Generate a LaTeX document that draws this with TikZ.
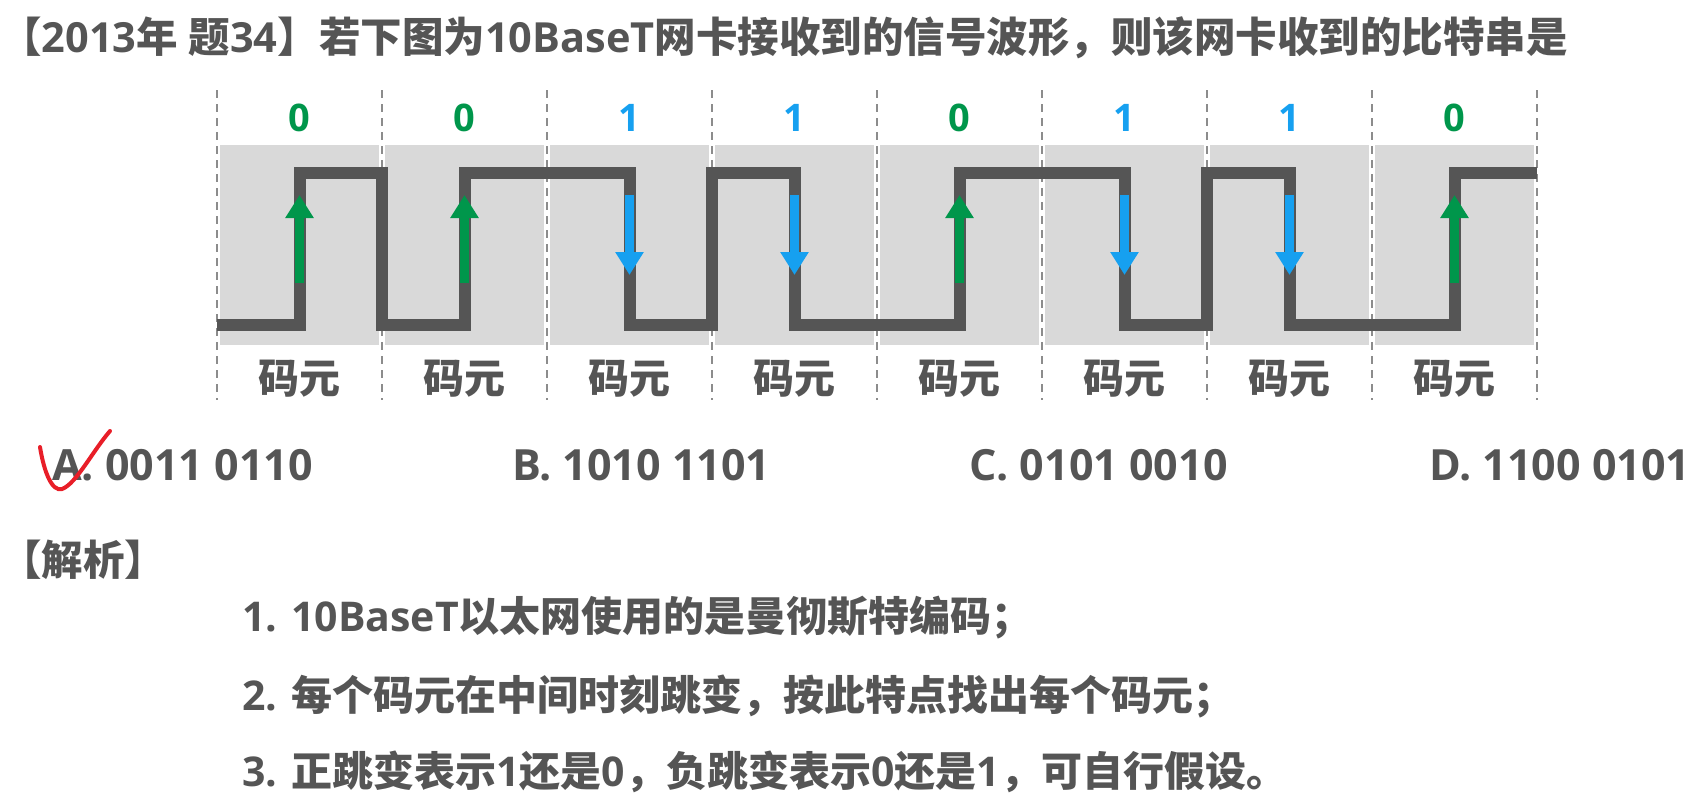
\documentclass[tikz,border=0pt]{standalone}
\usepackage{fontspec}
\setmainfont{Open Sans}
\newfontfamily\cjk{Noto Sans CJK SC}
\usepackage{tikz}
\usetikzlibrary{arrows.meta}
\definecolor{texte}{RGB}{85,85,85}
\definecolor{onde}{RGB}{85,85,85}
\definecolor{fond}{RGB}{217,217,217}
\definecolor{vert}{RGB}{0,150,75}
\definecolor{bleu}{RGB}{22,160,240}
\definecolor{rouge}{RGB}{232,30,40}
\definecolor{pointille}{RGB}{140,140,140}

\tikzset{
  titre/.style={inner sep=0pt, anchor=west, text=texte, font=\bfseries\fontsize{41.5pt}{49pt}\selectfont},
  bit/.style={inner sep=0pt, font=\bfseries\fontsize{38pt}{46pt}\selectfont},
  code/.style={inner sep=0pt, text=texte, font=\cjk\bfseries\fontsize{41pt}{49pt}\selectfont},
  option/.style={inner sep=0pt, anchor=west, text=texte, font=\bfseries\fontsize{43pt}{50pt}\selectfont},
  ligne/.style={inner sep=0pt, anchor=west, text=texte, font=\bfseries\fontsize{41pt}{48pt}\selectfont},
  fleche/.style={line width=9pt, -{Triangle[width=27pt,length=23pt]}}
}

\begin{document}
\begin{tikzpicture}[x=1pt,y=-1pt]
        % Cadre de l'image
        \useasboundingbox (0,0) rectangle (1698,798);

        % Enonce
        \node[titre] (enonce) at (0,38) {{\cjk【}2013{\cjk 年} {\cjk 题}34{\cjk 】若下图为}10BaseT{\cjk 网卡接收到的信号波形，则该网卡收到的比特串是}};

        % Fonds gris des codes
        \foreach \i in {0,...,7}
            \fill[fond] ({220+165*\i},145) rectangle ({379+165*\i},345);

        % Separations en pointilles
        \foreach \i in {0,...,8}
            \draw[pointille, line width=1.5pt, dash pattern=on 8pt off 6pt] ({217+165*\i},90) -- ({217+165*\i},400);

        % Signal recu
        \draw[onde, line width=12pt, line join=miter] (217,325) -- (299.5,325) -- (299.5,173) -- (382,173) -- (382,325)
            -- (464.5,325) -- (464.5,173) -- (629.5,173) -- (629.5,325) -- (712,325) -- (712,173)
            -- (794.5,173) -- (794.5,325) -- (959.5,325) -- (959.5,173) -- (1124.5,173) -- (1124.5,325)
            -- (1207,325) -- (1207,173) -- (1289.5,173) -- (1289.5,325) -- (1454.5,325) -- (1454.5,173) -- (1537,173);

        % Bits, fleches et codes
        \foreach \b [count=\i from 0] in {0,0,1,1,0,1,1,0} {
            \pgfmathsetmacro\xm{299.5+165*\i}
            \ifnum\b=0
                \node[bit, text=vert] (bit\i) at (\xm,118) {0};
                \draw[fleche, vert] (\xm,283) -- (\xm,195);
            \else
                \node[bit, text=bleu] (bit\i) at (\xm,118) {1};
                \draw[fleche, bleu] (\xm,195) -- (\xm,275);
            \fi
            \node[code] (code\i) at (\xm,379) {码元};
        }

        % Choix de reponse
        \node[option] (optA) at (52,465) {A. 0011 0110};
        \node[option] (optB) at (512,465) {B. 1010 1101};
        \node[option] (optC) at (969,465) {C. 0101 0010};
        \node[option] (optD) at (1429,465) {D. 1100 0101};

        % Coche rouge
        \draw[rouge, line width=4pt, line cap=round] (40,447) .. controls (44,472) and (52,492) .. (62,489)
            .. controls (76,484) and (92,452) .. (110,431);

        % Analyse
        \node[titre] (analyse) at (0,560) {\cjk【解析】};
        \node[ligne] (ligne1) at (242,618) {1. 10BaseT{\cjk 以太网使用的是曼彻斯特编码；}};
        \node[ligne] (ligne2) at (242,696) {2. {\cjk 每个码元在中间时刻跳变，按此特点找出每个码元；}};
        \node[ligne] (ligne3) at (242,772) {3. {\cjk 正跳变表示}1{\cjk 还是}0{\cjk ，负跳变表示}0{\cjk 还是}1{\cjk ，可自行假设。}};
    \end{tikzpicture}
\end{document}
